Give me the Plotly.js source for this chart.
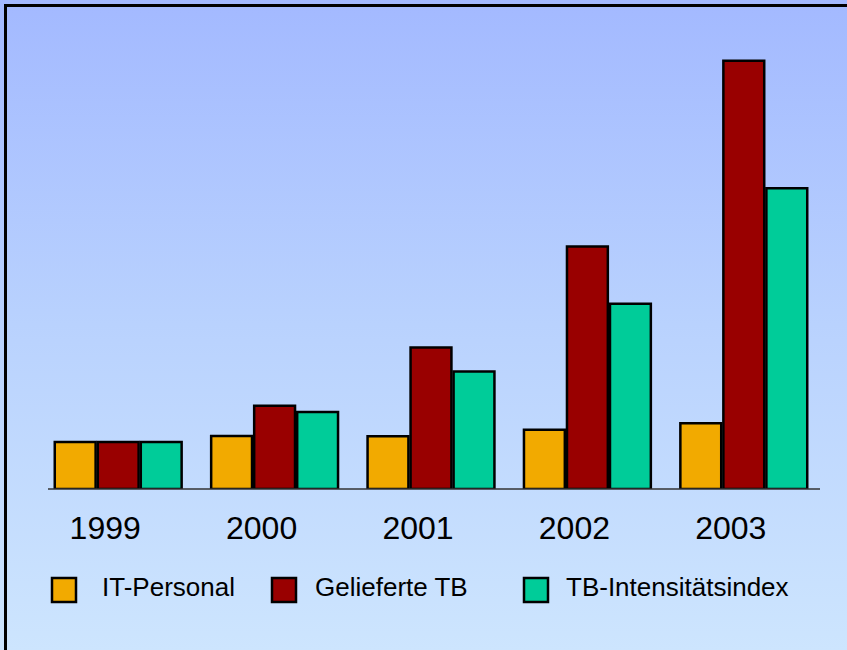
<!DOCTYPE html>
<html>
<head>
<meta charset="utf-8">
<script src="https://cdn.plot.ly/plotly-3.0.1.min.js"></script>
<style>
  html, body { margin: 0; padding: 0; width: 847px; height: 650px; overflow: hidden; }
  body { background: linear-gradient(to bottom, #A3B9FF 0%, #B9D2FE 50%, #CDE5FE 100%); position: relative; }
  #chart { position: absolute; left: 0; top: 0; width: 847px; height: 650px; }
  #frame { position: absolute; left: 4px; top: 4px; width: 900px; height: 700px;
           border-left: 3px solid #000; border-top: 3px solid #000; pointer-events: none; z-index: 10; }
</style>
</head>
<body>
<div id="chart"></div>
<div id="frame"></div>
<script>
// Data (index values, 1999 = 100)
const years = ['1999', '2000', '2001', '2002', '2003'];
const seriesNames = ['IT-Personal', 'Gelieferte TB', 'TB-Intensitätsindex'];
const itPersonal = [100, 113, 112, 126, 140];
const gelieferteTB = [100, 177, 301, 516, 911];
const tbIntensitaet = [100, 164, 250, 394, 640];
const seriesColors = ['#F2AA00', '#990000', '#00CC99'];

const allValues = [itPersonal, gelieferteTB, tbIntensitaet];

const traces = allValues.map((vals, i) => ({
  type: 'bar',
  x: years,
  y: vals,
  name: seriesNames[i],
  marker: { color: seriesColors[i], line: { color: '#000000', width: 2.5 } },
  showlegend: false,
  hoverinfo: 'x+y+name'
}));

const W = 847, H = 650;
const mL = 40, mR = 25, mT = 19, mB = 161;
const plotW = W - mL - mR, plotH = H - mT - mB;
const px2x = px => (px - mL) / plotW;
const py2y = py => (H - mB - py) / plotH;

// Manual legend (large square swatches like the original)
const legendSquares = [52, 272, 524];
const legendTexts = [100, 313, 564];
const shapes = [
  { type: 'line', xref: 'paper', yref: 'paper', x0: px2x(48), x1: px2x(820), y0: 0, y1: 0,
    line: { color: '#333333', width: 1.5 } }
];
const annotations = [];
seriesNames.forEach((nm, i) => {
  shapes.push({
    type: 'rect', xref: 'paper', yref: 'paper',
    x0: px2x(legendSquares[i]), x1: px2x(legendSquares[i] + 24),
    y0: py2y(602), y1: py2y(578),
    fillcolor: seriesColors[i], line: { color: '#000000', width: 2.5 }
  });
  annotations.push({
    xref: 'paper', yref: 'paper', x: px2x(legendTexts[i]), y: py2y(587),
    xanchor: 'left', yanchor: 'middle', showarrow: false, text: nm,
    font: { family: 'Liberation Sans, Arial, sans-serif', size: 26, color: '#000000' }
  });
});

const layout = {
  width: W, height: H,
  margin: { l: mL, r: mR, t: mT, b: mB, pad: 0 },
  paper_bgcolor: 'rgba(0,0,0,0)',
  plot_bgcolor: 'rgba(0,0,0,0)',
  barmode: 'group',
  bargap: 0.175,
  bargroupgap: 0.05,
  showlegend: false,
  xaxis: {
    type: 'category',
    showgrid: false, zeroline: false, showline: false,
    ticks: '', ticklabelshift: -13, ticklabelstandoff: 17,
    tickfont: { family: 'Liberation Sans, Arial, sans-serif', size: 32, color: '#000000' }
  },
  yaxis: {
    range: [0, 1000],
    visible: false, showgrid: false, zeroline: false
  },
  shapes: shapes,
  annotations: annotations,
  font: { family: 'Liberation Sans, Arial, sans-serif' }
};

Plotly.newPlot('chart', traces, layout, { displayModeBar: false, staticPlot: true });
</script>
</body>
</html>
